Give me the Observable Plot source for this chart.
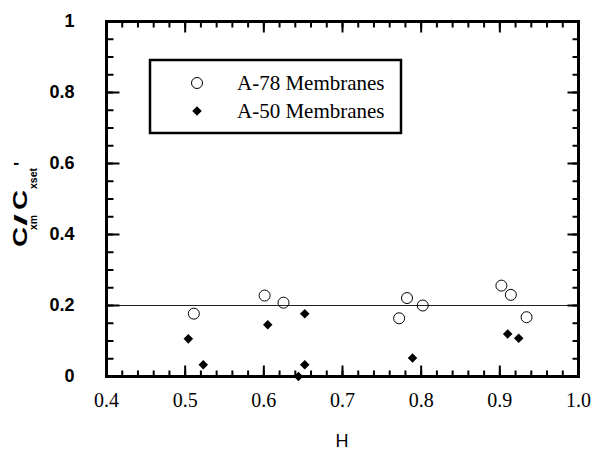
<!DOCTYPE html>
<html>
<head>
<meta charset="utf-8">
<script src="https://cdn.jsdelivr.net/npm/d3@7"></script>
<script src="https://cdn.jsdelivr.net/npm/@observablehq/plot@0.6"></script>
<style>
  html, body { margin: 0; padding: 0; background: #fff; }
</style>
</head>
<body>
<div id="chart"></div>
<script>
// A-78 membranes (open circles)
const a78H = [0.511, 0.601, 0.625, 0.772, 0.782, 0.802, 0.902, 0.914, 0.934];
const a78C = [0.177, 0.228, 0.208, 0.164, 0.221, 0.200, 0.256, 0.230, 0.167];
// A-50 membranes (filled diamonds)
const a50H = [0.504, 0.523, 0.605, 0.644, 0.652, 0.652, 0.789, 0.910, 0.924];
const a50C = [0.106, 0.033, 0.146, 0.000, 0.177, 0.033, 0.052, 0.120, 0.108];
// reference line
const refLine = [0.2];
// ticks
const xMajor = [0.4, 0.5, 0.6, 0.7, 0.8, 0.9, 1.0];
const xMinor = d3.range(0, 31).map(i => +(0.4 + i * 0.02).toFixed(2));
const yMajor = [0, 0.2, 0.4, 0.6, 0.8, 1];
const yMinor = d3.range(0, 21).map(i => +(i * 0.05).toFixed(2));
const legendLabels = ["A-78 Membranes", "A-50 Membranes"];

const a78 = a78H.map((h, i) => ({h, c: a78C[i]}));
const a50 = a50H.map((h, i) => ({h, c: a50C[i]}));

const SANS = "Liberation Sans";
const SERIF = "Liberation Serif";

// inward tick shapes (custom symbols)
const tickSym = (dx, dy) => ({draw(ctx) { ctx.moveTo(0, 0); ctx.lineTo(dx, dy); }});
const tk = {stroke: "black", strokeWidth: 2};

const plot = Plot.plot({
  width: 604,
  height: 452,
  marginLeft: 106,
  marginRight: 26,
  marginTop: 21,
  marginBottom: 76,
  x: {domain: [0.4, 1.0], label: null},
  y: {domain: [0, 1], label: null},
  marks: [
    Plot.ruleY(refLine, {stroke: "#222", strokeWidth: 1}),
    // minor ticks
    Plot.dot(xMinor, {x: d => d, frameAnchor: "bottom", symbol: tickSym(0, -6), ...tk}),
    Plot.dot(xMinor, {x: d => d, frameAnchor: "top", symbol: tickSym(0, 6), ...tk}),
    Plot.dot(yMinor, {y: d => d, frameAnchor: "left", symbol: tickSym(7, 0), ...tk}),
    Plot.dot(yMinor, {y: d => d, frameAnchor: "right", symbol: tickSym(-6, 0), ...tk}),
    // major ticks
    Plot.dot(xMajor, {x: d => d, frameAnchor: "bottom", symbol: tickSym(0, -11), ...tk}),
    Plot.dot(xMajor, {x: d => d, frameAnchor: "top", symbol: tickSym(0, 11), ...tk}),
    Plot.dot(yMajor, {y: d => d, frameAnchor: "left", symbol: tickSym(13, 0), ...tk}),
    Plot.dot(yMajor, {y: d => d, frameAnchor: "right", symbol: tickSym(-11, 0), ...tk}),
    Plot.axisX({ticks: xMajor, anchor: "bottom", tickSize: 0, tickPadding: 16,
      tickFormat: d => d.toFixed(1), fontSize: 20, fontFamily: SERIF}),
    Plot.axisY({ticks: yMajor, anchor: "left", tickSize: 0, tickPadding: 32,
      tickFormat: d => (d === 0 ? "0" : d === 1 ? "1" : d.toFixed(1)),
      fontSize: 18, fontWeight: "bold", fontFamily: SANS}),
    Plot.frame({stroke: "black", strokeWidth: 3}),
    Plot.dot(a78, {x: "h", y: "c", r: 5.5, stroke: "black", strokeWidth: 1}),
    Plot.dot(a50, {x: "h", y: "c", symbol: "diamond2", r: 4.3, fill: "black"})
  ]
});

document.getElementById("chart").appendChild(plot);

const svg = d3.select(plot);
const xs = plot.scale("x");

// x-axis title
svg.append("text")
  .attr("x", (xs.range[0] + xs.range[1]) / 2).attr("y", 447)
  .attr("text-anchor", "middle")
  .attr("font-family", SANS)
  .attr("font-size", 18)
  .text("H");

// y-axis title: C_xm / C_xset'
const yt = svg.append("g")
  .attr("transform", "translate(27,248) rotate(-90)")
  .attr("font-family", SANS)
  .attr("font-weight", "bold")
  .attr("text-anchor", "start");
const pieces = [
  {t: "C", x: 1, y: 0, s: 20, len: 20},
  {t: "xm", x: 18, y: 10, s: 11, len: 15},
  {t: "/", x: 22, y: 0, s: 18, len: 12},
  {t: "C", x: 38, y: 0, s: 20, len: 20},
  {t: "xset", x: 59, y: 10, s: 11, len: 21},
  {t: "'", x: 82, y: 0, s: 18, len: null}
];
pieces.forEach(p => {
  const t = yt.append("text")
    .attr("x", p.x).attr("y", p.y)
    .attr("font-size", p.s)
    .attr("text-anchor", "start")
    .text(p.t);
  if (p.len) t.attr("textLength", p.len).attr("lengthAdjust", "spacingAndGlyphs");
});

// legend
const lg = svg.append("g");
lg.append("rect")
  .attr("x", 150).attr("y", 60).attr("width", 251).attr("height", 73)
  .attr("fill", "white").attr("stroke", "black").attr("stroke-width", 2.5);
const rows = [83, 111];
lg.append("circle").attr("cx", 197).attr("cy", rows[0]).attr("r", 5.5)
  .attr("fill", "none").attr("stroke", "black").attr("stroke-width", 1);
lg.append("path")
  .attr("transform", `translate(197,${rows[1]})`)
  .attr("d", d3.symbol(d3.symbolDiamond2, Math.PI * 4.3 * 4.3)())
  .attr("fill", "black");
legendLabels.forEach((l, i) => {
  lg.append("text")
    .attr("x", 237).attr("y", rows[i] + 7)
    .attr("text-anchor", "start")
    .attr("font-family", SERIF)
    .attr("font-size", 21)
    .text(l);
});
</script>
</body>
</html>
